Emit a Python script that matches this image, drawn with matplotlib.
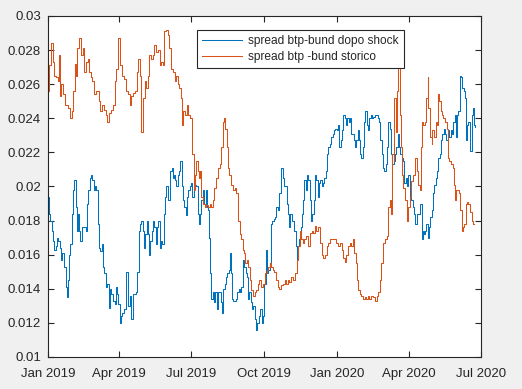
import numpy as np
import pandas as pd
import matplotlib
matplotlib.use('Agg')
import matplotlib.pyplot as plt
import matplotlib.dates as mdates
from matplotlib.ticker import FuncFormatter

# days since 1 Jan 2019
storico_days = [0, 3, 5, 7, 9, 11, 13, 14, 16, 18, 20, 24, 27, 29, 31, 32, 35, 36, 38, 41, 43, 45, 47, 49, 51,
                53, 55, 57, 59, 63, 65, 67, 70, 72, 74, 76, 78, 81, 84, 86, 87, 90, 92, 95, 97,
                100, 102, 104, 106, 108, 111, 113, 115, 117, 119, 121, 123, 125, 127, 129, 131, 133, 135,
                138, 140, 142, 144, 146, 148, 150, 152, 154, 157, 159, 161, 163, 165, 167, 169, 170, 172,
                174, 176, 178, 181, 182, 183, 185, 187, 188, 190, 191, 192,
                195, 197, 199, 201, 203, 205, 207, 209, 211, 213, 216, 218, 220, 222, 223, 225, 226, 228,
                230, 233, 235, 237, 239, 241, 243, 245, 247, 248, 250, 252, 254, 256, 258, 260, 262, 264,
                266, 268, 270, 273, 275, 277, 279, 281, 283, 285, 287,
                289, 291, 293, 296, 298, 300, 302, 304, 306, 308, 310, 313, 315, 317, 319, 321, 323, 325,
                327, 330, 332, 334, 336, 338, 340, 342, 344, 347, 349, 351, 353, 355, 357, 359, 361, 363,
                365, 368, 370, 372, 374, 376, 378, 380, 382,
                384, 386, 388, 389, 391, 393, 395, 397, 399, 401, 403, 405, 407, 410, 412, 414, 416, 418,
                420, 422, 424, 427, 429, 431, 433, 434, 436, 437, 438, 440, 441, 443, 444, 445, 447, 448,
                450, 452, 454, 456, 458, 460, 462, 465,
                467, 469, 471, 472, 473, 475, 477, 479, 480, 481, 484, 485, 486, 489, 491, 492, 494, 495,
                497, 498, 500, 502, 505, 506, 508, 510, 512, 514, 515, 516, 518, 520, 522, 523, 525, 527,
                528, 530, 532, 534, 536, 538]
storico = [0.0256, 0.0271, 0.0284, 0.0273, 0.0265, 0.0264, 0.0262, 0.0277, 0.0253, 0.0260, 0.0254, 0.0248,
           0.0246, 0.0240, 0.0244, 0.0256, 0.0272, 0.0265, 0.0281, 0.0287, 0.0277, 0.0281, 0.0267, 0.0273,
           0.0275, 0.0267, 0.0264, 0.0262, 0.0254, 0.0256, 0.0250, 0.0244, 0.0248, 0.0245, 0.0242, 0.0238,
           0.0243, 0.0245, 0.0248, 0.0262, 0.0269, 0.0287, 0.0271, 0.0265, 0.0263,
           0.0256, 0.0254, 0.0248, 0.0253, 0.0255, 0.0256, 0.0267, 0.0275, 0.0265, 0.0232, 0.0252, 0.0262,
           0.0258, 0.0265, 0.0277, 0.0275, 0.0277, 0.0283, 0.0279, 0.0280, 0.0271, 0.0273, 0.0271, 0.0291,
           0.0292, 0.0289, 0.0281, 0.0269, 0.0267, 0.0262, 0.0265, 0.0260, 0.0258, 0.0252, 0.0236, 0.0244,
           0.0242, 0.0248, 0.0242, 0.0240, 0.0232, 0.0219, 0.0198, 0.0207, 0.0215, 0.0209, 0.0205, 0.0209,
           0.0194, 0.0190, 0.0188, 0.0189, 0.0188, 0.0190, 0.0188, 0.0192, 0.0199, 0.0205, 0.0211, 0.0213,
           0.0223, 0.0238, 0.0240, 0.0234, 0.0223, 0.0211, 0.0207, 0.0201, 0.0198, 0.0199, 0.0196, 0.0180,
           0.0172, 0.0169, 0.0163, 0.0161, 0.0155, 0.0157, 0.0153, 0.0145, 0.0139, 0.0136, 0.0138, 0.0139,
           0.0143, 0.0145, 0.0141, 0.0143, 0.0149, 0.0151, 0.0153, 0.0155, 0.0153, 0.0151, 0.0150,
           0.0145, 0.0141, 0.0140, 0.0142, 0.0143, 0.0145, 0.0143, 0.0145, 0.0144, 0.0147, 0.0145, 0.0149,
           0.0157, 0.0165, 0.0174, 0.0169, 0.0167, 0.0169, 0.0171, 0.0165, 0.0173, 0.0174, 0.0173, 0.0177,
           0.0174, 0.0176, 0.0167, 0.0160, 0.0158, 0.0160, 0.0165, 0.0167, 0.0169, 0.0169, 0.0169, 0.0169,
           0.0167, 0.0165, 0.0167, 0.0163, 0.0158, 0.0156, 0.0160, 0.0165, 0.0167,
           0.0165, 0.0169, 0.0161, 0.0155, 0.0145, 0.0139, 0.0137, 0.0136, 0.0134, 0.0135, 0.0134, 0.0136,
           0.0134, 0.0136, 0.0135, 0.0133, 0.0136, 0.0138, 0.0145, 0.0155, 0.0167, 0.0169, 0.0171, 0.0188,
           0.0192, 0.0184, 0.0219, 0.0215, 0.0252, 0.0232, 0.0256, 0.0271, 0.0276, 0.0242, 0.0223, 0.0207,
           0.0199, 0.0192, 0.0180, 0.0188, 0.0194, 0.0203, 0.0207, 0.0217,
           0.0209, 0.0201, 0.0198, 0.0223, 0.0238, 0.0236, 0.0238, 0.0252, 0.0264, 0.0246, 0.0229, 0.0225,
           0.0233, 0.0229, 0.0238, 0.0236, 0.0254, 0.0250, 0.0244, 0.0242, 0.0240, 0.0238, 0.0234, 0.0217,
           0.0215, 0.0213, 0.0211, 0.0201, 0.0192, 0.0198, 0.0198, 0.0196, 0.0186, 0.0174, 0.0176, 0.0178,
           0.0190, 0.0191, 0.0190, 0.0185, 0.0180, 0.0178]

shock_days = [0, 2, 4, 5, 7, 9, 11, 12, 14, 15, 17, 19, 22, 23, 24, 26, 27, 29, 31, 32, 34, 36, 37, 38, 40,
              42, 43, 46, 49, 50, 52, 54, 55, 57, 59, 60, 62, 64, 65, 67, 69, 70, 72, 74, 76, 77, 79, 81,
              83, 85, 86, 88, 90, 92, 93, 95, 97,
              100, 102, 104, 106, 108, 110, 112, 114, 116, 117, 119, 121, 122, 124, 125, 127, 128, 130,
              132, 133, 135, 137, 138, 140, 142, 144, 145, 147, 149, 150, 152, 154, 155, 157, 158, 160,
              161, 163, 165, 166, 168, 170, 171, 173, 175, 176, 178, 180, 181, 183, 185, 187, 188, 190,
              191, 192,
              195, 196, 198, 200, 201, 203, 204, 206, 207, 209, 211, 212, 214, 216, 217, 219, 221, 222,
              224, 226, 227, 229, 231, 232, 233, 235, 237, 238, 240, 242, 243, 245, 247, 249, 250, 252,
              254, 255, 257, 259, 260, 262, 264, 265, 267, 269, 271, 272, 274, 276, 277, 279, 281, 282,
              284, 286, 287,
              289, 291, 293, 296, 297, 299, 301, 302, 304, 305, 307, 309, 310, 312, 314, 315, 316, 318,
              320, 321, 323, 325, 327, 328, 330, 332, 333, 335, 337, 338, 340, 342, 343, 345, 347, 348,
              350, 352, 353, 355, 357, 359, 360, 362, 364, 365, 367, 369, 370, 372, 374, 376, 377, 379,
              381, 382,
              383, 385, 387, 389, 390, 392, 394, 395, 397, 399, 400, 402, 404, 405, 407, 409, 410, 412,
              414, 416, 417, 419, 421, 422, 424, 426, 427, 429, 431, 432, 434, 436, 438, 439, 441, 443,
              444, 446, 448, 449, 451, 453, 454, 456, 458, 460, 461, 463,
              465, 466, 468, 470, 471, 473, 474, 476, 477, 479, 480, 482, 484, 485, 487, 489, 491, 492,
              494, 496, 497, 499, 501, 502, 504, 506, 508, 509, 511, 513, 514, 516, 518, 519, 521, 522,
              524, 526, 528, 529, 530, 532, 534, 536, 537, 539, 540]
shock = [0.0194, 0.0184, 0.0180, 0.0174, 0.0168, 0.0163, 0.0165, 0.0170, 0.0168, 0.0164,
         0.0157, 0.0161, 0.0153, 0.0141, 0.0135, 0.0145, 0.0160, 0.0166, 0.0184, 0.0198,
         0.0204, 0.0188, 0.0174, 0.0184, 0.0174, 0.0168, 0.0176, 0.0176, 0.0174, 0.0190,
         0.0198, 0.0205, 0.0207, 0.0204, 0.0198, 0.0200, 0.0198, 0.0178, 0.0164, 0.0162,
         0.0166, 0.0153, 0.0149, 0.0141, 0.0143, 0.0129, 0.0140, 0.0137, 0.0133, 0.0131,
         0.0141, 0.0137, 0.0131, 0.0120, 0.0124, 0.0126, 0.0128,
         0.0150, 0.0130, 0.0136, 0.0122, 0.0137, 0.0137, 0.0138, 0.0150, 0.0174, 0.0178,
         0.0180, 0.0174, 0.0164, 0.0172, 0.0180, 0.0172, 0.0160, 0.0168, 0.0174, 0.0180,
         0.0176, 0.0166, 0.0176, 0.0180, 0.0164, 0.0168, 0.0166, 0.0184, 0.0194, 0.0200,
         0.0192, 0.0192, 0.0209, 0.0211, 0.0205, 0.0207, 0.0204, 0.0200, 0.0207, 0.0209,
         0.0215, 0.0200, 0.0192, 0.0188, 0.0183, 0.0194, 0.0198, 0.0200, 0.0202, 0.0194,
         0.0200, 0.0201, 0.0200, 0.0184, 0.0178, 0.0184,
         0.0192, 0.0198, 0.0190, 0.0198, 0.0188, 0.0186, 0.0170, 0.0149, 0.0134, 0.0138,
         0.0132, 0.0138, 0.0128, 0.0138, 0.0138, 0.0132, 0.0126, 0.0140, 0.0143, 0.0147,
         0.0149, 0.0151, 0.0161, 0.0149, 0.0134, 0.0133, 0.0133, 0.0134, 0.0138, 0.0140,
         0.0138, 0.0141, 0.0157, 0.0153, 0.0149, 0.0147, 0.0134, 0.0138, 0.0132, 0.0128,
         0.0130, 0.0122, 0.0116, 0.0120, 0.0124, 0.0128, 0.0120, 0.0124, 0.0143, 0.0163,
         0.0149, 0.0151, 0.0155, 0.0178, 0.0180, 0.0181, 0.0182,
         0.0188, 0.0186, 0.0196, 0.0211, 0.0205, 0.0200, 0.0200, 0.0190, 0.0184, 0.0176,
         0.0184, 0.0180, 0.0180, 0.0174, 0.0165, 0.0157, 0.0165, 0.0169, 0.0176, 0.0184,
         0.0192, 0.0204, 0.0198, 0.0207, 0.0204, 0.0192, 0.0180, 0.0184, 0.0192, 0.0207,
         0.0204, 0.0194, 0.0202, 0.0204, 0.0200, 0.0202, 0.0205, 0.0209, 0.0219, 0.0223,
         0.0225, 0.0229, 0.0231, 0.0233, 0.0234, 0.0233, 0.0236, 0.0223, 0.0227, 0.0233,
         0.0242, 0.0240, 0.0236, 0.0240, 0.0238, 0.0240,
         0.0231, 0.0231, 0.0227, 0.0223, 0.0227, 0.0233, 0.0227, 0.0219, 0.0217, 0.0223,
         0.0238, 0.0244, 0.0236, 0.0233, 0.0240, 0.0242, 0.0240, 0.0241, 0.0242, 0.0242,
         0.0240, 0.0238, 0.0227, 0.0219, 0.0211, 0.0209, 0.0213, 0.0223, 0.0238, 0.0234,
         0.0219, 0.0213, 0.0215, 0.0219, 0.0223, 0.0231, 0.0223, 0.0219, 0.0217, 0.0215,
         0.0202, 0.0205, 0.0200, 0.0207, 0.0194, 0.0192, 0.0188, 0.0184,
         0.0178, 0.0184, 0.0184, 0.0184, 0.0190, 0.0169, 0.0174, 0.0172, 0.0174, 0.0178,
         0.0170, 0.0176, 0.0182, 0.0186, 0.0196, 0.0201, 0.0205, 0.0209, 0.0217, 0.0219,
         0.0227, 0.0231, 0.0234, 0.0231, 0.0227, 0.0233, 0.0229, 0.0233, 0.0231, 0.0238,
         0.0242, 0.0229, 0.0242, 0.0244, 0.0265, 0.0264, 0.0258, 0.0256, 0.0252, 0.0227,
         0.0236, 0.0238, 0.0221, 0.0242, 0.0246, 0.0236, 0.0235]

labels = ['spread btp-bund dopo shock', 'spread btp -bund storico']
start = pd.Timestamp('2019-01-01')
x_ticks = pd.date_range('2019-01-01', '2020-07-01', freq='3MS')

t_shock = start + pd.to_timedelta(shock_days, unit='D')
t_storico = start + pd.to_timedelta(storico_days, unit='D')

plt.rcParams['font.family'] = ['Liberation Sans', 'DejaVu Sans']
plt.rcParams['font.size'] = 9.5

fig = plt.figure(figsize=(5.22, 3.89), dpi=100, facecolor='#f0f0f0')
ax = fig.add_axes([0.092, 0.0823, 0.8295, 0.8766])
ax.plot(t_shock, shock, color='#0072BD', lw=0.75, drawstyle='steps-mid', label=labels[0])
ax.plot(t_storico, storico, color='#D95319', lw=0.75, drawstyle='steps-mid', label=labels[1])

ax.set_xlim(pd.Timestamp('2019-01-01'), pd.Timestamp('2020-07-01'))
ax.set_ylim(0.01, 0.03)
ax.set_xticks(x_ticks)
ax.xaxis.set_major_formatter(mdates.DateFormatter('%b %Y'))
ax.set_yticks(np.arange(0.01, 0.0301, 0.002))
ax.yaxis.set_major_formatter(FuncFormatter(lambda v, p: '%g' % round(v, 3)))

for s in ax.spines.values():
    s.set_color('#262626')
    s.set_linewidth(0.8)
ax.tick_params(direction='in', length=4, width=0.8, colors='#262626',
               top=True, right=True, labelsize=9.5)
ax.tick_params(axis='x', pad=8)
ax.tick_params(axis='y', pad=5)

leg = ax.legend(loc='upper left', bbox_to_anchor=(0.344, 0.959), borderaxespad=0,
                fancybox=False, edgecolor='#262626', framealpha=1, fontsize=8.6,
                handlelength=3.3, handletextpad=0.5, borderpad=0.45, labelspacing=0.3)
leg.get_frame().set_linewidth(0.8)
for t in leg.get_texts():
    t.set_color('#262626')

fig.savefig('out.png', dpi=100, facecolor=fig.get_facecolor())
